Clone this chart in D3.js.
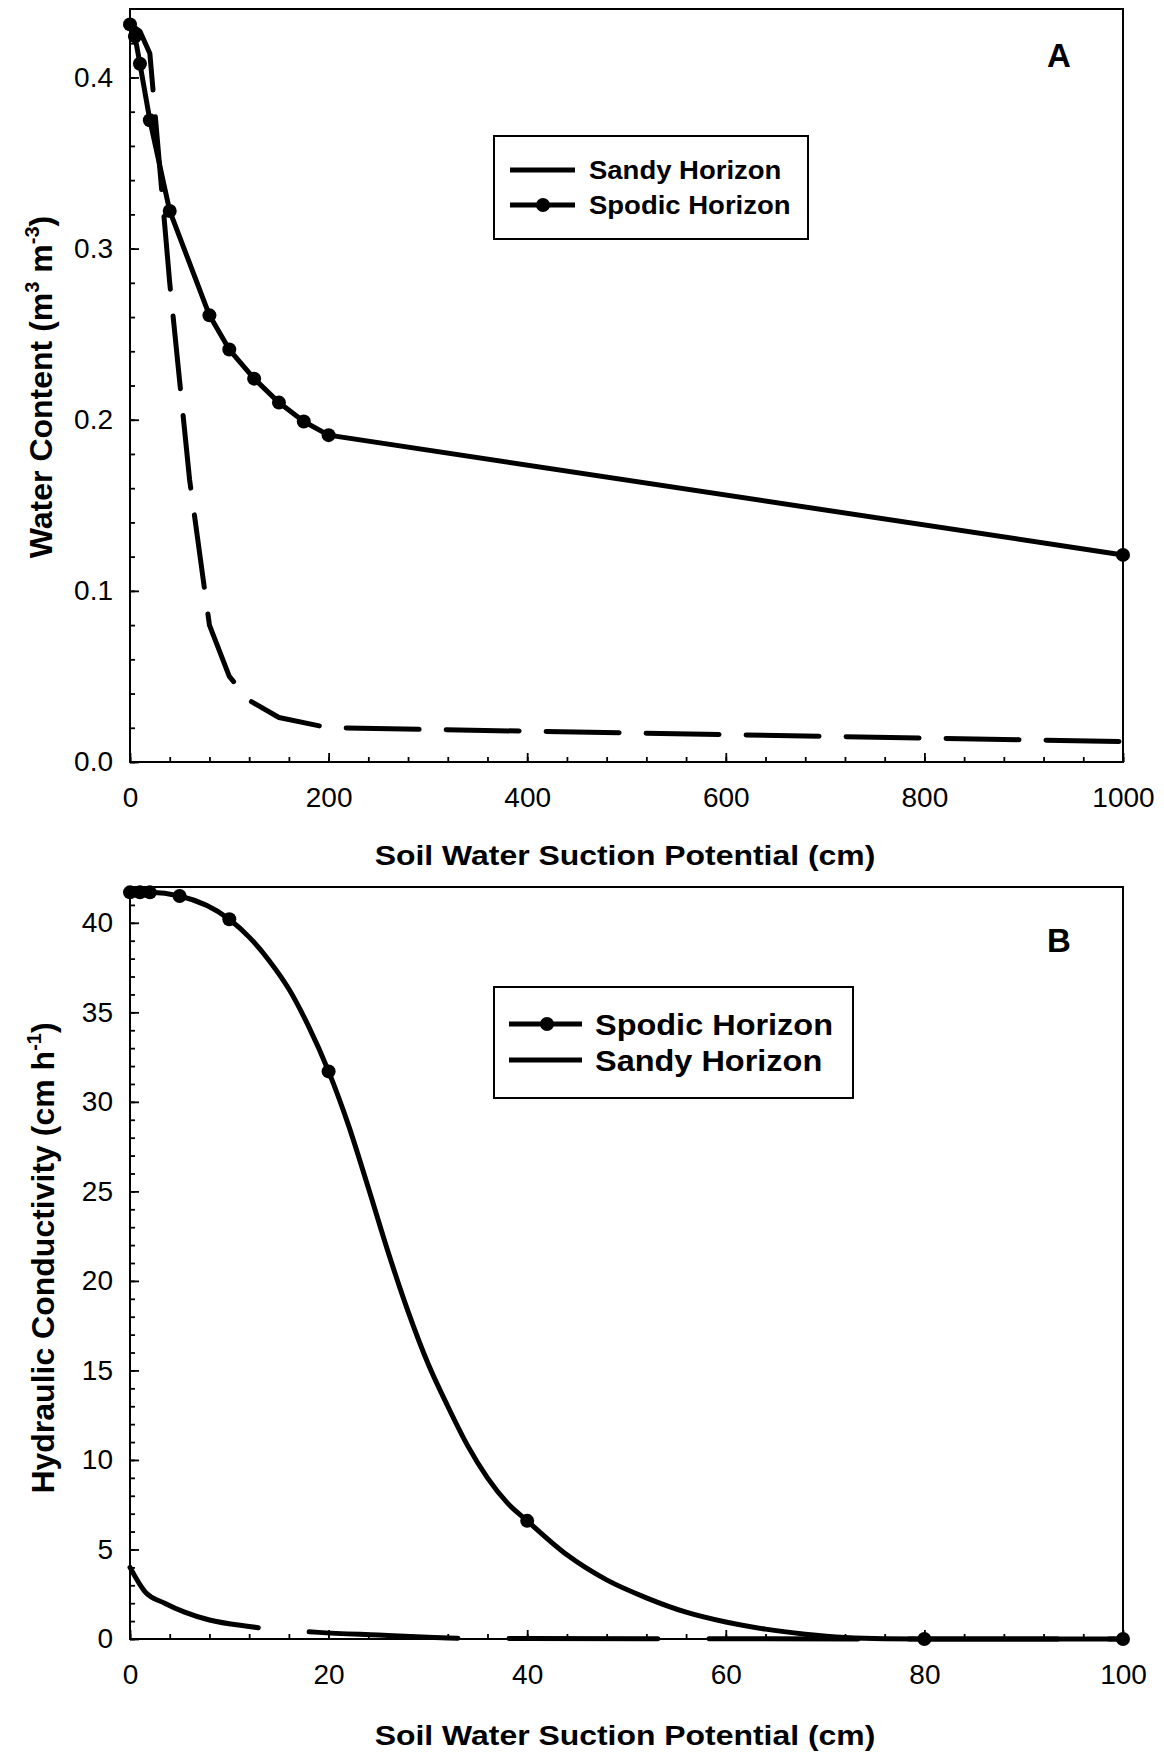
<!DOCTYPE html>
<html>
<head>
<meta charset="utf-8">
<script src="https://cdn.jsdelivr.net/npm/d3@7"></script>
<style>
  body { margin: 0; background: #fff; }
  svg { display: block; background: #fff; }
  .tick text { font-family: 'Liberation Sans', Arial, sans-serif; font-size: 28px; fill: #000; }
  .tick line { stroke: #000; stroke-width: 1.8px; }
</style>
</head>
<body>
<div id="wrapper"></div>
<script>
// A: water retention (theta vs suction)
const suctionA = [0, 5, 10, 20, 40, 80, 100, 125, 150, 175, 200, 1000];
const thetaSpodic = [0.431, 0.424, 0.408, 0.375, 0.322, 0.261, 0.241, 0.224, 0.210, 0.199, 0.191, 0.121];
const sandySuctionA = [0, 10, 20, 40, 60, 80, 100, 120, 150, 200, 1000];
const thetaSandy = [0.431, 0.427, 0.414, 0.280, 0.165, 0.080, 0.050, 0.036, 0.026, 0.020, 0.012];

// B: hydraulic conductivity vs suction
const kSpodicSuction = [0, 2, 5, 10, 12, 14, 16, 18, 20, 22, 24, 26, 28, 30, 32, 34, 36, 38, 40, 44, 48, 52, 56, 60, 64, 68, 72, 76, 80, 100];
const kSpodic = [41.7, 41.7, 41.5, 40.2, 39.2, 37.9, 36.3, 34.2, 31.7, 28.7, 25.2, 21.6, 18.3, 15.4, 13.0, 10.8, 9.0, 7.6, 6.6, 4.7, 3.3, 2.3, 1.5, 0.95, 0.55, 0.27, 0.08, 0.01, 0, 0];
const spodicMarkSuction = [0, 1, 2, 5, 10, 20, 40, 80, 100];
const spodicMarkK = [41.7, 41.7, 41.7, 41.5, 40.2, 31.7, 6.6, 0, 0];
const kSandySuction = [0, 1.5, 3.5, 5.5, 8, 12, 14, 19, 25, 30, 34, 40, 60, 80, 100];
const kSandy = [4.0, 2.65, 2.0, 1.5, 1.06, 0.7, 0.56, 0.37, 0.22, 0.1, 0.04, 0.03, 0.01, 0.005, 0];

// tick labels
const xTicksA = [0, 200, 400, 600, 800, 1000];
const yTicksA = [0, 0.1, 0.2, 0.3, 0.4];
const xTicksB = [0, 20, 40, 60, 80, 100];
const yTicksB = [0, 5, 10, 15, 20, 25, 30, 35, 40];

const font = "'Liberation Sans', Arial, Helvetica, sans-serif";
let left = 130, right = 1123;

let svg = d3.select('div#wrapper')
  .append('svg')
  .attr('width', 1164)
  .attr('height', 1756);

function axes(x, y, top, bottom, xMajor, xStep, yMajor, yStep, yFmt) {
  let xMinor = d3.range(x.domain()[0], x.domain()[1] + 1e-9, xStep);
  let yMinor = d3.range(y.domain()[0], y.domain()[1], yStep);

  svg.append('g').attr('transform', 'translate(0,' + bottom + ')')
    .call(d3.axisBottom(x).tickValues(xMinor).tickSize(-5).tickFormat(''));
  svg.append('g').attr('transform', 'translate(0,' + bottom + ')')
    .call(d3.axisBottom(x).tickValues(xMajor).tickSize(-9).tickPadding(25).tickFormat(d3.format('d')));
  svg.append('g').attr('transform', 'translate(' + left + ',0)')
    .call(d3.axisLeft(y).tickValues(yMinor).tickSize(-5).tickFormat(''));
  svg.append('g').attr('transform', 'translate(' + left + ',0)')
    .call(d3.axisLeft(y).tickValues(yMajor).tickSize(-9).tickPadding(17).tickFormat(yFmt));

  svg.selectAll('.domain').remove();

  svg.append('rect')
    .attr('x', left).attr('y', top)
    .attr('width', right - left).attr('height', bottom - top)
    .attr('fill', 'none').attr('stroke', '#000').attr('stroke-width', 2);
}

function wideText(x, y, str, size, sx, anchor) {
  return svg.append('text')
    .attr('transform', 'translate(' + x + ',' + y + ') scale(' + sx + ',1)')
    .attr('text-anchor', anchor || 'start')
    .style('font-family', font)
    .style('font-weight', 'bold')
    .style('font-size', size + 'px')
    .text(str);
}

function yTitle(x, y, parts) {
  let t = svg.append('text')
    .attr('transform', 'translate(' + x + ',' + y + ') rotate(-90)')
    .attr('text-anchor', 'middle')
    .style('font-family', font)
    .style('font-weight', 'bold')
    .style('font-size', '32px');
  parts.forEach(function (p) {
    let s = t.append('tspan').text(p.text);
    if (p.sup) s.attr('dy', -13).style('font-size', '20px');
    else if (p.back) s.attr('dy', 13);
  });
}

function drawLine(x, y, xs, ys, dash, curve) {
  svg.append('path')
    .datum(d3.zip(xs, ys))
    .attr('fill', 'none')
    .attr('stroke', '#000')
    .attr('stroke-width', 5)
    .attr('stroke-linejoin', 'round')
    .attr('stroke-linecap', dash ? 'round' : 'butt')
    .attr('stroke-dasharray', dash || null)
    .attr('d', d3.line()
      .curve(curve || d3.curveLinear)
      .x(function (d) { return x(d[0]); })
      .y(function (d) { return y(d[1]); }));
}

function drawDots(x, y, xs, ys) {
  svg.append('g')
    .selectAll('circle')
    .data(d3.zip(xs, ys))
    .enter()
    .append('circle')
    .attr('cx', function (d) { return x(d[0]); })
    .attr('cy', function (d) { return y(d[1]); })
    .attr('r', 7)
    .attr('fill', '#000');
}

function legend(x0, y0, w, h, rows, size, sx, textX) {
  svg.append('rect')
    .attr('x', x0).attr('y', y0).attr('width', w).attr('height', h)
    .attr('fill', '#fff').attr('stroke', '#000').attr('stroke-width', 2);
  rows.forEach(function (r) {
    svg.append('line')
      .attr('x1', r.x1).attr('x2', r.x2).attr('y1', r.y).attr('y2', r.y)
      .attr('stroke', '#000').attr('stroke-width', 5);
    if (r.dot) svg.append('circle').attr('cx', r.dot).attr('cy', r.y).attr('r', 7).attr('fill', '#000');
    wideText(textX, r.y + size * 0.37, r.label, size, sx);
  });
}

// ---- panel A ----
let xA = d3.scaleLinear().domain([0, 1000]).range([left, right]);
let yA = d3.scaleLinear().domain([0, 0.44]).range([762, 9]);

axes(xA, yA, 9, 762, xTicksA, 40, yTicksA, 0.02, d3.format('.1f'));

drawLine(xA, yA, sandySuctionA, thetaSandy, '73,27');
drawLine(xA, yA, suctionA, thetaSpodic, null);
drawDots(xA, yA, suctionA, thetaSpodic);

legend(494, 136, 314, 103, [
  { label: 'Sandy Horizon', x1: 510, x2: 575, y: 170 },
  { label: 'Spodic Horizon', x1: 510, x2: 575, y: 205, dot: 543 }
], 25, 1.1, 589);

wideText(1059, 67, 'A', 33, 1.0, 'middle');
wideText(625, 865, 'Soil Water Suction Potential (cm)', 28, 1.14, 'middle');
yTitle(52, 387, [
  { text: 'Water Content (m' }, { text: '3', sup: true },
  { text: ' m', back: true }, { text: '-3', sup: true },
  { text: ')', back: true }
]);

// ---- panel B ----
let xB = d3.scaleLinear().domain([0, 100]).range([left, right]);
let yB = d3.scaleLinear().domain([0, 42]).range([1639, 887]);

axes(xB, yB, 887, 1639, xTicksB, 4, yTicksB, 1, d3.format('d'));

drawLine(xB, yB, kSandySuction, kSandy, '149,51', d3.curveMonotoneX);
drawLine(xB, yB, kSpodicSuction, kSpodic, null, d3.curveMonotoneX);
drawDots(xB, yB, spodicMarkSuction, spodicMarkK);

legend(494, 987, 359, 111, [
  { label: 'Spodic Horizon', x1: 509, x2: 582, y: 1024, dot: 547 },
  { label: 'Sandy Horizon', x1: 509, x2: 582, y: 1060 }
], 29, 1.12, 595);

wideText(1059, 952, 'B', 33, 1.0, 'middle');
wideText(625, 1745, 'Soil Water Suction Potential (cm)', 28, 1.14, 'middle');
yTitle(54, 1258, [
  { text: 'Hydraulic Conductivity (cm h' }, { text: '-1', sup: true },
  { text: ')', back: true }
]);
</script>
</body>
</html>
